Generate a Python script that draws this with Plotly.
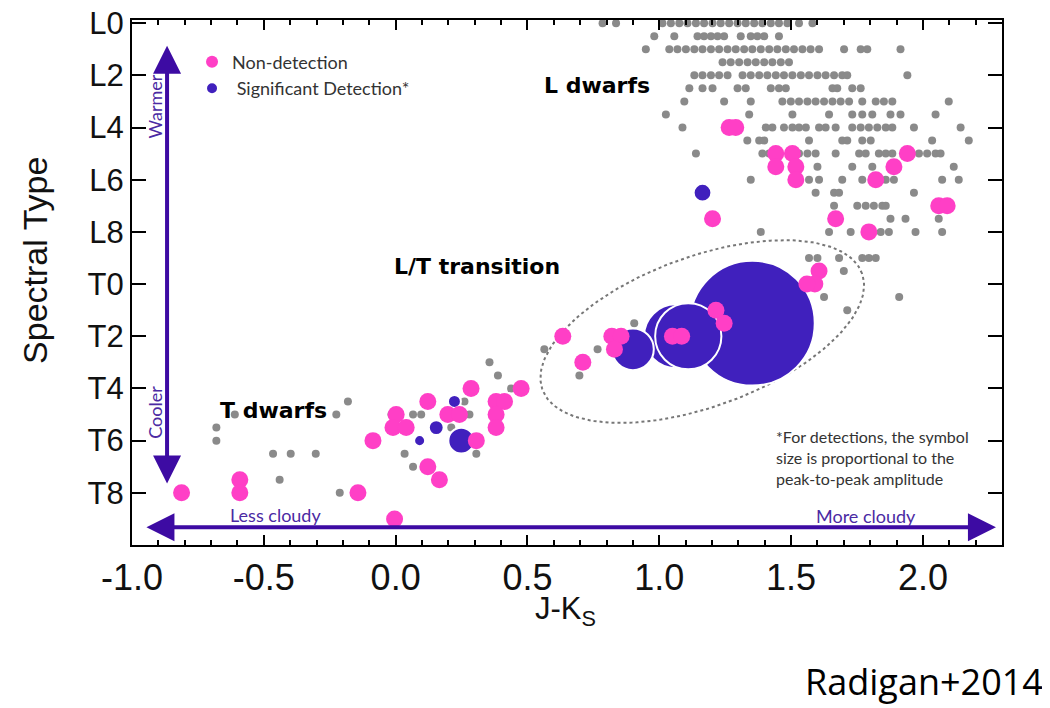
import numpy as np
import plotly.graph_objects as go

# ---- data (J-Ks colour, spectral type: L0=0 ... T8=18) ----
field_x = [
    0.785, 0.836, 1.012, 1.044, 1.076, 1.107, 1.139, 1.170, 1.202, 1.233, 1.265, 1.297, 1.328, 1.360, 1.391, 1.423, 1.454, 1.486, 1.530, 1.581,
    0.981, 1.057, 1.145, 1.170, 1.196, 1.221, 1.246, 1.309, 1.347, 1.372, 1.398, 1.454,
    0.949, 1.038, 1.069, 1.101, 1.133, 1.164, 1.196, 1.227, 1.259, 1.290, 1.322, 1.353, 1.385, 1.417, 1.448, 1.480, 1.511, 1.543, 1.574, 1.606, 1.701, 1.764, 1.789, 1.915,
    1.240, 1.271, 1.303, 1.335, 1.366, 1.398, 1.429, 1.461, 1.492,
    1.133, 1.164, 1.196, 1.227, 1.259, 1.316, 1.347, 1.379, 1.410, 1.442, 1.473, 1.505, 1.537, 1.568, 1.600, 1.631, 1.663, 1.694, 1.713, 1.941,
    1.114, 1.164, 1.202, 1.297, 1.328, 1.423, 1.454, 1.480, 1.657, 1.675, 1.732, 1.764,
    1.095, 1.246, 1.347, 1.467, 1.499, 1.530, 1.562, 1.593, 1.625, 1.657, 1.688, 1.720, 1.770, 1.821, 1.852, 1.884, 2.098,
    1.025, 1.341, 1.505, 1.644, 1.732, 1.770, 1.808, 1.877, 1.915, 2.048,
    1.088, 1.404, 1.429, 1.473, 1.505, 1.530, 1.556, 1.606, 1.631, 1.669, 1.732, 1.764, 1.795, 1.827, 1.859, 1.884, 1.966, 2.143,
    1.334, 1.379, 1.398, 1.568, 1.694, 1.713, 1.770, 1.802, 2.035, 2.174,
    1.139, 1.391, 1.417, 1.530, 1.562, 1.593, 1.669, 1.758, 1.783, 1.833, 1.859, 1.884, 1.985, 2.016, 2.048, 2.067,
    1.600, 1.732, 1.808, 2.117,
    1.347, 1.568, 1.606, 1.694, 1.770, 1.859, 1.890, 2.073, 2.136,
    1.593, 1.663, 1.682, 1.966,
    1.663, 1.751, 1.783, 1.814, 1.846, 1.859,
    1.877, 1.934, 2.060,
    1.385, 1.644, 1.726, 1.840, 1.871, 1.972, 2.073,
    1.568, 1.600, 1.682, 1.770, 1.795, 1.821,
    1.700, 1.625, 1.910, 1.713,
    0.905, 0.766, 0.697, 0.564,
    0.356, 0.388, 0.438, 0.261, -0.181, -0.016, 0.066, 0.097, 0.280, -0.225, -0.610,
    -0.680, -0.680, 0.211, 0.306, 0.034, -0.465, -0.398, -0.303, 0.066, -0.440, -0.212,
]
field_y = (
    [0.0] * 20 + [0.5] * 12 + [1.0] * 24 + [1.5] * 9 + [2.0] * 20 + [2.5] * 12
    + [3.0] * 17 + [3.5] * 10 + [4.0] * 18 + [4.5] * 10 + [5.0] * 16 + [5.5] * 4
    + [6.0] * 9 + [6.5] * 4 + [7.0] * 6 + [7.5] * 3 + [8.0] * 7 + [9.0] * 6
    + [9.5, 10.5, 10.5, 11.0]
    + [11.5, 12.5, 13.5, 12.5]
    + [13.0, 13.5, 14.0, 14.5, 14.5, 15.0, 15.0, 15.0, 15.0, 15.0, 15.0,
       15.5, 16.0, 15.5, 16.5, 16.5, 16.5, 16.5, 16.5, 17.0, 17.5, 18.0]
)

nondet_x = [1.265, 1.290, 1.442, 1.505, 1.442, 1.518, 1.518, 1.941, 1.890, 1.821, 2.060, 2.092, 1.202, 1.669, 1.795,
            1.606, 1.590, 1.560, 1.215, 1.246, 1.050, 1.085, 0.820, 0.855, 0.830, 0.634, 0.710,
            0.476, 0.286, 0.122, 0.381, 0.413, 0.002, 0.198, 0.242, 0.381, -0.010, 0.040, 0.381,
            -0.086, 0.306, 0.122, 0.166, -0.591, -0.591, -0.812, -0.143, -0.004]
nondet_y = [4.0, 4.0, 5.0, 5.0, 5.5, 5.5, 6.0, 5.0, 5.5, 6.0, 7.0, 7.0, 7.5, 7.5, 8.0,
            9.5, 10.0, 10.0, 11.0, 11.5, 12.0, 12.0, 12.0, 12.0, 12.5, 12.0, 13.0,
            14.0, 14.0, 14.5, 14.5, 14.5, 15.0, 15.0, 15.0, 15.0, 15.5, 15.5, 15.5,
            16.0, 16.0, 17.0, 17.5, 17.5, 18.0, 18.0, 18.0, 19.0]

det_x = [1.353, 1.063, 0.900, 1.110, 1.164, 0.223, 0.154, 0.091, 0.249]
det_y = [11.5, 12.0, 12.5, 12.0, 6.5, 14.5, 15.5, 16.0, 16.0]
det_amp = [26.0, 13.3, 8.7, 13.8, 3.7, 2.7, 3.1, 2.3, 5.4]   # peak-to-peak amplitude (%)

spt_vals = [0, 2, 4, 6, 8, 10, 12, 14, 16, 18]
spt_text = ["L0", "L2", "L4", "L6", "L8", "T0", "T2", "T4", "T6", "T8"]

# dashed ellipse around the L/T transition (centre in data units, axes in px)
ell_cx, ell_cy = 1.163, 11.82
ell_a, ell_b, ell_tilt = 170, 75, 20

X_RANGE = [-1.0, 2.3]
Y_RANGE = [20, -0.12]
W, H = 1050, 708
# the page body adds an 8px offset, so the margins are shifted by that much
M = dict(l=124, r=56, t=12, b=171, autoexpand=False)

PINK = "#ff3fc6"
BLUE = "#4020bd"
GREY = "#8a8a8a"
ARROW = "#3d0ba3"
TXT_PURPLE = "#4b2aa3"

px_x = (W - M["l"] - M["r"]) / (X_RANGE[1] - X_RANGE[0])
px_y = (H - M["t"] - M["b"]) / abs(Y_RANGE[0] - Y_RANGE[1])
t = np.linspace(0, 2 * np.pi, 200)
th = np.radians(ell_tilt)
ell_x = ell_cx + (ell_a * np.cos(t) * np.cos(th) - ell_b * np.sin(t) * np.sin(th)) / px_x
ell_y = ell_cy - (ell_a * np.cos(t) * np.sin(th) + ell_b * np.sin(t) * np.cos(th)) / px_y

fig = go.Figure()

fig.add_trace(go.Scatter(x=ell_x, y=ell_y, mode="lines", showlegend=False, hoverinfo="skip",
                         line=dict(color="#777777", width=2, dash="dot")))

fig.add_trace(go.Scatter(x=field_x, y=field_y, mode="markers", showlegend=False,
                         marker=dict(color=GREY, size=8)))

fig.add_trace(go.Scatter(x=det_x, y=det_y, mode="markers", name=" Significant Detection*",
                         legendrank=2,
                         marker=dict(color=BLUE, opacity=1, size=det_amp, sizemode="diameter",
                                     sizeref=1 / 4.8, line=dict(color="white", width=2))))

fig.add_trace(go.Scatter(x=nondet_x, y=nondet_y, mode="markers", name="Non-detection",
                         legendrank=1,
                         marker=dict(color=PINK, size=17, opacity=1)))

txt = dict(family="Lato, 'Open Sans', sans-serif")
bold = dict(family="DejaVu Sans, sans-serif")

annotations = [
    # arrows
    dict(x=-0.867, y=0.87, ax=-0.867, ay=17.7, xref="x", yref="y", axref="x", ayref="y",
         text="", showarrow=True, arrowside="end+start", arrowhead=2, startarrowhead=2,
         arrowsize=1.4, startarrowsize=1.4, arrowwidth=4, arrowcolor=ARROW),
    dict(x=2.277, y=19.32, ax=-0.951, ay=19.32, xref="x", yref="y", axref="x", ayref="y",
         text="", showarrow=True, arrowside="end+start", arrowhead=2, startarrowhead=2,
         arrowsize=1.4, startarrowsize=1.4, arrowwidth=4, arrowcolor=ARROW),
    dict(x=-0.913, y=3.2, xref="x", yref="y", text="Warmer", textangle=-90, showarrow=False,
         font=dict(size=18, color=TXT_PURPLE, **txt)),
    dict(x=-0.913, y=14.9, xref="x", yref="y", text="Cooler", textangle=-90, showarrow=False,
         font=dict(size=18, color=TXT_PURPLE, **txt)),
    dict(x=-0.455, y=18.85, xref="x", yref="y", text="Less cloudy", showarrow=False,
         font=dict(size=18, color=TXT_PURPLE, **txt)),
    dict(x=1.784, y=18.9, xref="x", yref="y", text="More cloudy", showarrow=False,
         font=dict(size=18, color=TXT_PURPLE, **txt)),
    # region labels
    dict(x=0.765, y=2.39, xref="x", yref="y", text="<b>L dwarfs</b>", showarrow=False,
         font=dict(size=22, color="black", **bold)),
    dict(x=0.307, y=9.32, xref="x", yref="y", text="<b>L/T transition</b>", showarrow=False,
         font=dict(size=22, color="black", **bold)),
    dict(x=-0.462, y=14.85, xref="x", yref="y", text="<b>T dwarfs</b>", showarrow=False,
         font=dict(size=22, color="black", **bold)),
    dict(x=1.436, y=15.42, xref="x", yref="y", xanchor="left", yanchor="top", align="left",
         text="*For detections, the symbol<br>size is proportional to the<br>peak-to-peak amplitude",
         showarrow=False, font=dict(size=16, color="#333333", **txt)),
    # axis titles + credit
    dict(x=-0.1115, y=0.543, xref="paper", yref="paper", xanchor="center", yanchor="middle",
         text="Spectral Type", textangle=-90, showarrow=False,
         font=dict(size=34, color="#111111", family="Liberation Sans, Arial")),
    dict(x=0.498, y=-0.126, xref="paper", yref="paper", xanchor="center", yanchor="middle",
         text="J-K<sub>S</sub>", showarrow=False,
         font=dict(size=31, color="#111111", family="Liberation Sans, Arial")),
    dict(x=1.049, y=-0.26, xref="paper", yref="paper", xanchor="right", yanchor="middle",
         text="Radigan+2014", showarrow=False,
         font=dict(size=36, color="black", family="Open Sans, Noto Sans")),
]

axis_common = dict(showline=True, linecolor="black", linewidth=2, mirror="ticks",
                   ticks="inside", tickcolor="black", showgrid=False, zeroline=False,
                   ticklabeloverflow="allow")

fig.update_layout(
    width=W, height=H, margin=M,
    paper_bgcolor="white", plot_bgcolor="white",
    showlegend=True,
    legend=dict(x=0.069, y=0.955, xanchor="left", yanchor="top", bgcolor="rgba(0,0,0,0)",
                itemsizing="constant", font=dict(size=18, color="#333333", **txt)),
    xaxis=dict(range=X_RANGE, tickvals=[-1.0, -0.5, 0.0, 0.5, 1.0, 1.5, 2.0],
               ticktext=["-1.0", "-0.5", "0.0", "0.5", "1.0", "1.5", "2.0"],
               ticklen=10, tickwidth=2, ticklabelstandoff=0,
               minor=dict(dtick=0.1, ticks="inside", ticklen=5, tickcolor="black", tickwidth=1.5),
               tickfont=dict(size=36, color="#111111", family="Liberation Sans, Arial"),
               **axis_common),
    yaxis=dict(range=Y_RANGE, tickvals=spt_vals, ticktext=spt_text, ticklen=14, tickwidth=2,
               tickfont=dict(size=31, color="#111111", family="Liberation Sans, Arial"),
               **axis_common),
    annotations=annotations,
)

fig.write_html("out.html")
